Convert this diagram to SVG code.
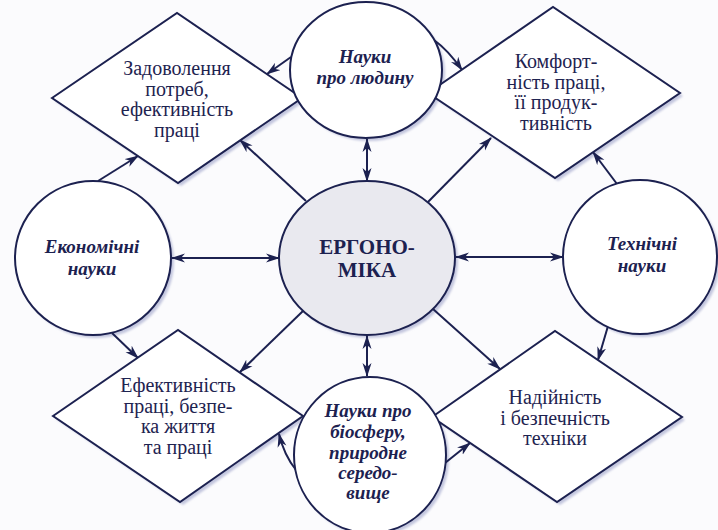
<svg xmlns="http://www.w3.org/2000/svg" width="718" height="530" viewBox="0 0 718 530">
  <defs>
    <marker id="ah" viewBox="0 0 14 10" refX="13" refY="5" markerWidth="14" markerHeight="10" markerUnits="userSpaceOnUse" orient="auto-start-reverse">
      <path d="M0,0.5 L14,5 L0,9.5 L4,5 z" fill="#1c2150"/>
    </marker>
    <filter id="blur" x="-10%" y="-10%" width="120%" height="120%">
      <feGaussianBlur stdDeviation="1.2"/>
    </filter>
  </defs>
  <style>
    .shape { fill: #ffffff; stroke: #1c2150; stroke-width: 2; }
    .core { fill: #e9e9ef; stroke: #1c2150; stroke-width: 2; }
    .shadow { fill: #c3c6de; stroke: none; filter: url(#blur); }
    .conn line, .conn path { stroke: #1c2150; stroke-width: 2; fill: none; marker-end: url(#ah); }
    .both { marker-start: url(#ah); }
    .dt { font-size: 20px; fill: #1e2350; text-anchor: middle; }
    .ct { font-size: 19px; font-weight: bold; font-style: italic; fill: #1c2150; text-anchor: middle; }
    .mt { font-size: 21px; font-weight: bold; fill: #1c2150; text-anchor: middle; }
  </style>
  <rect width="718" height="530" fill="#fbfbfd"/>

  <!-- shadows -->
  <g id="shadows">
    <polygon class="shadow" points="55,101 180,16 305,101 181,186"/>
    <polygon class="shadow" points="431,96 556,10 683,96 558,181"/>
    <polygon class="shadow" points="56,419 181,333 306,419 183,505"/>
    <polygon class="shadow" points="435,420 558,334 685,420 560,505"/>
    <ellipse class="shadow" cx="369" cy="73" rx="76" ry="68"/>
    <ellipse class="shadow" cx="96" cy="261" rx="78" ry="77"/>
    <ellipse class="shadow" cx="643" cy="260" rx="77" ry="77"/>
    <ellipse class="shadow" cx="370" cy="261" rx="88" ry="77"/>
    <ellipse class="shadow" cx="373" cy="458" rx="76" ry="78"/>
  </g>

  <g id="connectors" class="conn">
    <line class="both" x1="367" y1="139" x2="367" y2="181"/>
    <line class="both" x1="367" y1="336" x2="367" y2="376"/>
    <line class="both" x1="172" y1="258" x2="279" y2="258"/>
    <line class="both" x1="456" y1="257" x2="563" y2="257"/>
    <line x1="306" y1="201" x2="240" y2="140"/>
    <line x1="428" y1="202" x2="491" y2="138"/>
    <line x1="303" y1="311" x2="240" y2="372"/>
    <line x1="433" y1="309" x2="500" y2="369"/>
    <line x1="98" y1="181" x2="138" y2="156"/>
    <line x1="112" y1="333" x2="138" y2="358"/>
    <line x1="617" y1="184" x2="593" y2="152"/>
    <line x1="608" y1="326" x2="598" y2="360"/>
    <line x1="291" y1="57" x2="267" y2="74"/>
    <path d="M434,40 Q448,50 462,70"/>
    <path d="M296,470 Q284,455 279,434"/>
    <line x1="445" y1="463" x2="470" y2="443"/>
  </g>

  <g id="nodes" font-family="Liberation Serif, Times New Roman, Tinos, serif">
  <g id="n-zadovolennia">
    <polygon class="shape" points="52,98 177,13 302,98 178,183"/>
    <text class="dt" x="177" y="75">Задоволення</text>
    <text class="dt" x="177" y="96">потреб,</text>
    <text class="dt" x="177" y="116">ефективність</text>
    <text class="dt" x="177" y="137">праці</text>
  </g>

  <g id="n-komfortnist">
    <polygon class="shape" points="428,93 553,7 680,93 555,178"/>
    <text class="dt" x="556" y="68">Комфорт-</text>
    <text class="dt" x="556" y="89">ність праці,</text>
    <text class="dt" x="556" y="109">її продук-</text>
    <text class="dt" x="556" y="130">тивність</text>
  </g>

  <g id="n-efektyvnist">
    <polygon class="shape" points="53,416 178,330 303,416 180,502"/>
    <text class="dt" x="178" y="392">Ефективність</text>
    <text class="dt" x="178" y="413">праці, безпе-</text>
    <text class="dt" x="178" y="433">ка життя</text>
    <text class="dt" x="178" y="454">та праці</text>
  </g>

  <g id="n-nadiinist">
    <polygon class="shape" points="432,417 555,331 682,417 557,502"/>
    <text class="dt" x="555" y="404">Надійність</text>
    <text class="dt" x="555" y="425">і безпечність</text>
    <text class="dt" x="555" y="445">техніки</text>
  </g>

  <g id="n-liudyna">
    <ellipse class="shape" cx="366" cy="70" rx="76" ry="68"/>
    <text class="ct" x="365" y="63">Науки</text>
    <text class="ct" x="365" y="84">про людину</text>
  </g>

  <g id="n-ekonomichni">
    <ellipse class="shape" cx="93" cy="258" rx="78" ry="77"/>
    <text class="ct" x="92" y="253">Економічні</text>
    <text class="ct" x="92" y="275">науки</text>
  </g>

  <g id="n-tekhnichni">
    <ellipse class="shape" cx="640" cy="257" rx="77" ry="77"/>
    <text class="ct" x="642" y="250">Технічні</text>
    <text class="ct" x="642" y="272">науки</text>
  </g>

  <g id="n-ergonomika">
    <ellipse class="core" cx="367" cy="258" rx="88" ry="77"/>
    <text class="mt" x="367" y="254">ЕРГОНО-</text>
    <text class="mt" x="367" y="277">МІКА</text>
  </g>

  <g id="n-biosfera">
    <ellipse class="shape" cx="370" cy="455" rx="76" ry="78"/>
    <text class="ct" x="368" y="417">Науки про</text>
    <text class="ct" x="368" y="438">біосферу,</text>
    <text class="ct" x="368" y="459">природне</text>
    <text class="ct" x="368" y="479">середо-</text>
    <text class="ct" x="368" y="499">вище</text>
  </g>
  </g>
</svg>
